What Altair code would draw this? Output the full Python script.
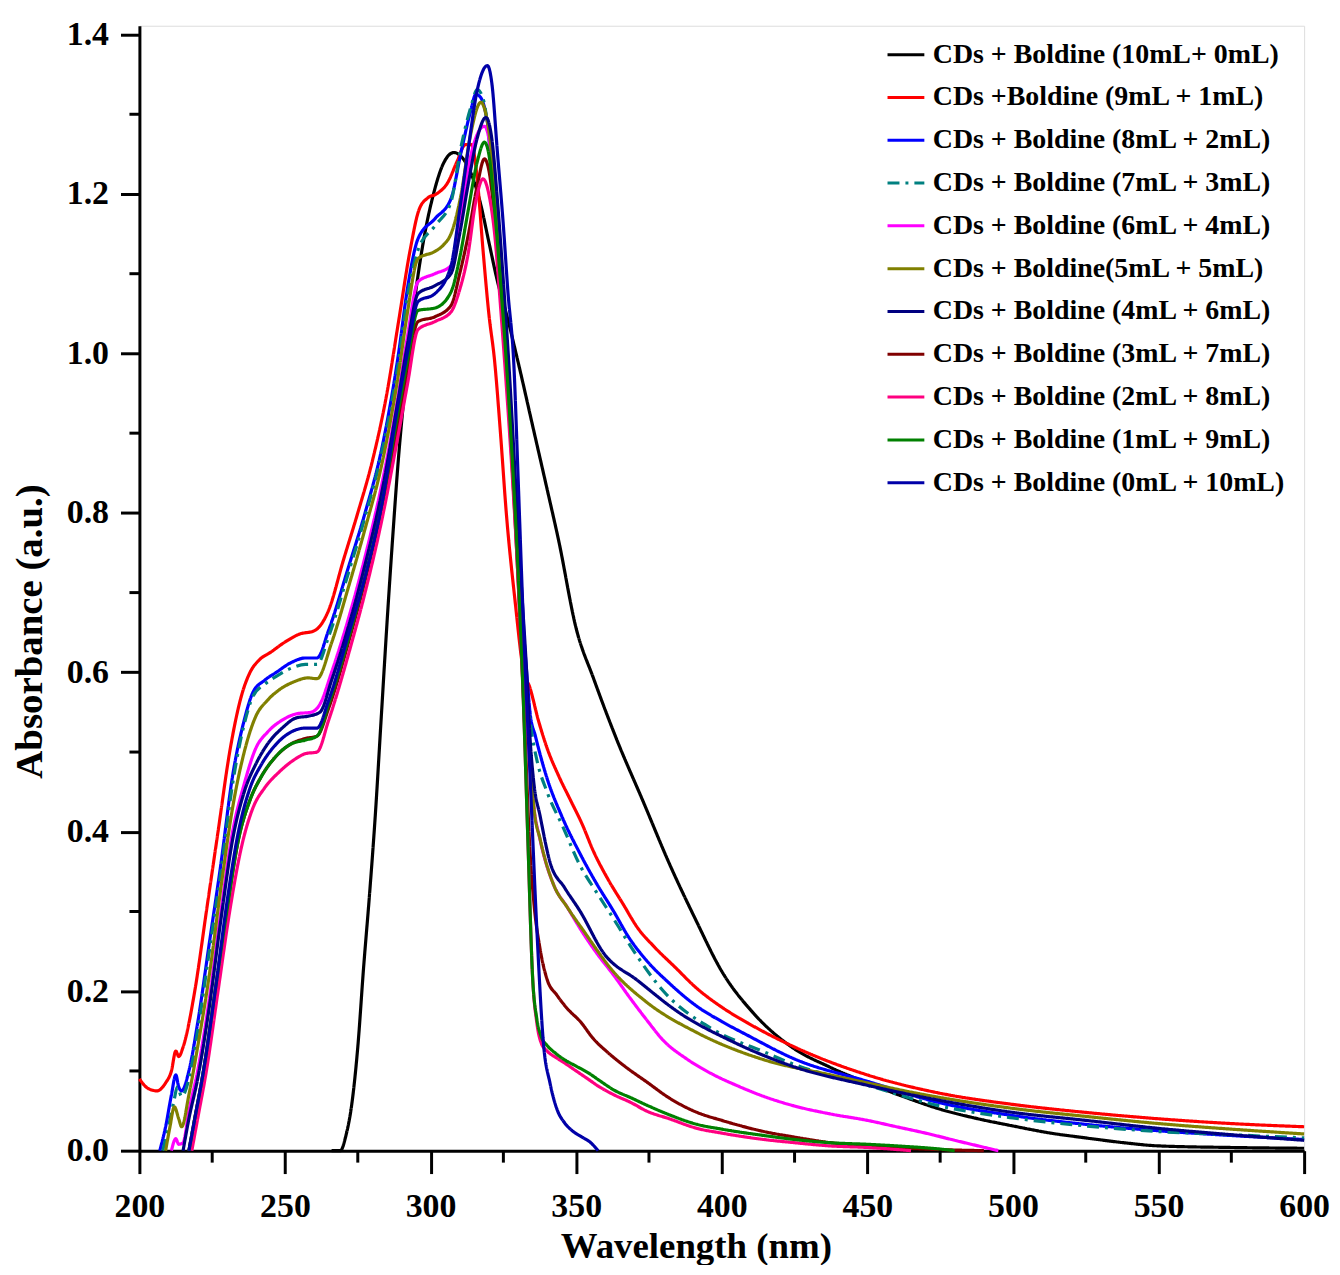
import altair as alt
import pandas as pd

names = [
    "CDs + Boldine (10mL+ 0mL)",
    "CDs +Boldine (9mL + 1mL)",
    "CDs + Boldine (8mL + 2mL)",
    "CDs + Boldine (7mL + 3mL)",
    "CDs + Boldine (6mL + 4mL)",
    "CDs + Boldine(5mL + 5mL)",
    "CDs + Boldine (4mL + 6mL)",
    "CDs + Boldine (3mL + 7mL)",
    "CDs + Boldine (2mL + 8mL)",
    "CDs + Boldine (1mL + 9mL)",
    "CDs + Boldine (0mL + 10mL)",
]
colors = ["#000000", "#FF0000", "#0000FF", "#008080", "#FF00FF", "#808000",
          "#000080", "#800000", "#FF0080", "#008000", "#0000A8"]
dashes = [[1, 0], [1, 0], [1, 0], [12, 6, 3, 6], [1, 0], [1, 0],
          [1, 0], [1, 0], [1, 0], [1, 0], [1, 0]]

wl_10_0 = [266, 269, 271, 273, 275, 277, 279, 281, 283, 285, 287, 289, 291, 293, 295, 298, 301, 304, 308, 311,
           314, 317, 320, 323, 326, 330, 335, 340, 344, 350, 356, 364, 373, 382, 391, 400, 411, 424, 437, 450,
           463, 475, 488, 500, 513, 525, 538, 550, 575, 600]
ab_10_0 = [0, 0.0, 0.02, 0.06, 0.13, 0.23, 0.32, 0.42, 0.54, 0.66, 0.77, 0.87, 0.95, 1.02, 1.08, 1.15, 1.2, 1.235, 1.252, 1.245,
           1.225, 1.19, 1.14, 1.09, 1.05, 0.99, 0.91, 0.83, 0.765, 0.655, 0.592, 0.515, 0.438, 0.36, 0.29, 0.225, 0.172, 0.13, 0.105, 0.085,
           0.067, 0.052, 0.04, 0.031, 0.022, 0.016, 0.01, 0.006, 0.004, 0.003]

wl_9_1 = [200, 203, 206, 209, 211, 212.5, 213.5, 215, 219, 223, 227, 231, 235, 238, 241, 245, 250, 255, 260, 265,
          270, 275, 280, 285, 289, 293, 296, 299, 302, 306, 309, 312, 314, 316, 318, 320, 322, 324, 326, 329, 332,
          334, 337, 340, 344, 348, 352, 356, 361, 366, 371, 377, 384, 391, 400, 409, 425, 450, 475, 500, 525,
          550, 575, 600]
ab_9_1 = [0.09, 0.078, 0.075, 0.085, 0.1, 0.125, 0.118, 0.13, 0.2, 0.3, 0.4, 0.5, 0.57, 0.6, 0.615, 0.625, 0.638, 0.648, 0.652, 0.678,
          0.74, 0.8, 0.865, 0.95, 1.04, 1.13, 1.18, 1.195, 1.2, 1.215, 1.24, 1.262, 1.262, 1.22, 1.13, 1.05, 0.99, 0.9, 0.8, 0.69, 0.6,
          0.582, 0.54, 0.505, 0.47, 0.44, 0.41, 0.375, 0.34, 0.31, 0.28, 0.255, 0.23, 0.205, 0.18, 0.16, 0.13, 0.095, 0.072, 0.058, 0.048,
          0.04, 0.034, 0.03]

wl_8_2 = [207, 209, 211, 212.5, 213.5, 214.5, 217, 220, 224, 228, 232, 236, 239, 243, 247, 252, 257, 261, 265, 271.8,
          277.5, 283.2, 289, 292, 295.7, 301.5, 307, 310.5, 313.9, 315.5, 317, 319, 320.5, 322, 324, 326.5, 329, 331, 333, 334.2,
          336, 340, 345, 351.4, 357, 362.9, 368, 374.3, 382, 391.5, 400, 408.7, 425, 450, 475, 500, 525, 550, 575, 600]
ab_8_2 = [0, 0.03, 0.07, 0.095, 0.08, 0.075, 0.1, 0.16, 0.26, 0.36, 0.47, 0.54, 0.575, 0.59, 0.6, 0.612, 0.618, 0.618, 0.653, 0.732,
          0.8, 0.88, 1.0, 1.08, 1.144, 1.169, 1.194, 1.253, 1.306, 1.325, 1.322, 1.3, 1.26, 1.169, 1.086, 0.978, 0.83, 0.7, 0.6, 0.548,
          0.52, 0.467, 0.42, 0.372, 0.335, 0.3, 0.268, 0.238, 0.21, 0.181, 0.162, 0.145, 0.115, 0.087, 0.06, 0.044, 0.033, 0.025, 0.019, 0.014]

wl_7_3 = [208, 210, 212, 213, 214.5, 217, 220, 224, 228, 232, 236, 239, 243, 247, 252, 257, 261, 265, 271.8, 277.5,
          283.2, 289, 292, 295.7, 301.5, 307, 310.5, 313.9, 316, 318, 320, 322, 324, 326.5, 329, 331, 333, 334.5, 336.5, 340,
          345.6, 351, 357, 363, 368.6, 380, 397, 414.5, 425, 450, 475, 500, 525, 550, 575, 600]
ab_7_3 = [0, 0.03, 0.065, 0.08, 0.068, 0.09, 0.15, 0.25, 0.35, 0.46, 0.535, 0.57, 0.585, 0.595, 0.605, 0.61, 0.61, 0.645, 0.725, 0.795,
          0.875, 0.99, 1.07, 1.13, 1.16, 1.19, 1.26, 1.31, 1.331, 1.32, 1.27, 1.17, 1.08, 0.97, 0.82, 0.7, 0.58, 0.53, 0.49, 0.45,
          0.405, 0.36, 0.324, 0.29, 0.257, 0.2, 0.152, 0.124, 0.108, 0.082, 0.056, 0.041, 0.031, 0.024, 0.02, 0.016]

wl_6_4 = [211, 212.5, 213.5, 215, 217, 220, 224, 228, 232, 236, 240, 244, 249, 254, 259, 262, 266, 272, 277.5, 283.2,
          289, 292, 295.7, 301.5, 307, 310, 312.8, 315.5, 318.5, 320, 322, 324, 326, 328, 330, 332, 334, 335.5, 337.6, 342.2,
          347, 352.5, 357, 362.9, 368.6, 374, 380, 388, 397.3, 405, 414.5, 425, 437.4, 450, 460, 470, 480, 488, 495]
ab_6_4 = [0, 0.015, 0.008, 0.01, 0.05, 0.1, 0.19, 0.3, 0.4, 0.46, 0.505, 0.525, 0.54, 0.548, 0.55, 0.56, 0.6, 0.67, 0.745, 0.835,
          0.95, 1.02, 1.09, 1.1, 1.11, 1.16, 1.23, 1.27, 1.285, 1.27, 1.2, 1.1, 1.0, 0.87, 0.75, 0.63, 0.49, 0.43, 0.39, 0.334,
          0.305, 0.272, 0.248, 0.22, 0.191, 0.165, 0.138, 0.115, 0.095, 0.082, 0.068, 0.056, 0.046, 0.038, 0.03, 0.022, 0.013, 0.006, 0]

wl_5_5 = [209, 210.5, 212, 213.5, 214.5, 217, 220, 224, 228, 232, 236, 240, 244, 248, 253, 258, 261, 266, 271.8, 277.5,
          283.2, 289, 292, 295.7, 301.5, 304.4, 307, 310.5, 313.5, 317.3, 319, 321, 323, 325, 327, 329, 331, 333, 334.2, 335.5,
          337.6, 342.2, 347, 352.5, 362.9, 374.3, 391.5, 414.5, 437.4, 450, 467, 500, 525, 550, 575, 600]
ab_5_5 = [0, 0.03, 0.055, 0.04, 0.03, 0.07, 0.13, 0.22, 0.33, 0.43, 0.5, 0.545, 0.565, 0.578, 0.588, 0.593, 0.592, 0.637, 0.707, 0.78,
          0.86, 0.975, 1.05, 1.119, 1.128, 1.136, 1.15, 1.2, 1.27, 1.315, 1.3, 1.25, 1.16, 1.06, 0.96, 0.83, 0.7, 0.58, 0.5, 0.43,
          0.391, 0.334, 0.305, 0.276, 0.224, 0.186, 0.148, 0.114, 0.095, 0.085, 0.072, 0.053, 0.043, 0.034, 0.027, 0.021]

wl_4_6 = [215, 217, 220, 224, 228, 232, 236, 240, 244, 249, 254, 258, 262, 266, 272, 277.5, 283.2, 289, 292, 295.7,
          301.5, 307, 310, 312.8, 316, 319, 321, 323, 325, 327, 329, 331, 333, 334.2, 335.5, 337.6, 341, 346, 351.4, 359.4,
          370.9, 385.8, 403, 425, 450, 475, 500, 525, 550, 575, 600]
ab_4_6 = [0, 0.04, 0.09, 0.18, 0.29, 0.39, 0.45, 0.485, 0.51, 0.53, 0.543, 0.545, 0.55, 0.59, 0.66, 0.735, 0.825, 0.945, 1.01, 1.075,
          1.085, 1.1, 1.15, 1.21, 1.27, 1.296, 1.27, 1.19, 1.09, 0.98, 0.85, 0.72, 0.6, 0.515, 0.46, 0.42, 0.362, 0.33, 0.3, 0.248,
          0.214, 0.172, 0.138, 0.105, 0.082, 0.063, 0.048, 0.038, 0.028, 0.02, 0.013]

wl_3_7 = [217, 219, 222, 226, 230, 234, 238, 242, 247, 252, 257, 261, 265, 272, 277.5, 283.2, 289, 292, 295.7, 301.5,
          307, 310, 312.8, 316, 318.5, 320, 322, 324, 326, 328, 330, 332, 334.2, 335.5, 337.6, 340, 343.4, 347, 351.4, 356,
          360.6, 367, 374.3, 382, 391.5, 400, 414.5, 425, 437.4, 450, 470, 490]
ab_3_7 = [0, 0.04, 0.1, 0.2, 0.3, 0.39, 0.44, 0.47, 0.495, 0.51, 0.517, 0.52, 0.555, 0.64, 0.715, 0.805, 0.915, 0.98, 1.04, 1.046,
          1.06, 1.1, 1.146, 1.21, 1.244, 1.23, 1.17, 1.08, 0.98, 0.86, 0.72, 0.56, 0.372, 0.31, 0.253, 0.215, 0.195, 0.178, 0.162, 0.14,
          0.124, 0.105, 0.086, 0.066, 0.048, 0.038, 0.024, 0.017, 0.01, 0.006, 0.002, 0]

wl_2_8 = [218, 220, 223, 227, 231, 235, 239, 243, 248, 253, 257, 261, 265, 272.9, 277.5, 283.2, 289, 292, 295.7, 301.5,
          307, 310, 312.8, 315.5, 318, 320, 322, 324, 326, 328, 330, 332, 333.5, 335, 336.5, 338, 340, 343, 346, 350,
          354, 358, 363, 369, 374, 382, 391.5, 400, 414.5, 425, 437, 450, 465]
ab_2_8 = [0, 0.04, 0.1, 0.2, 0.3, 0.38, 0.43, 0.455, 0.475, 0.49, 0.498, 0.5, 0.54, 0.637, 0.7, 0.79, 0.9, 0.96, 1.03, 1.04,
          1.052, 1.08, 1.123, 1.19, 1.219, 1.2, 1.15, 1.06, 0.96, 0.85, 0.72, 0.55, 0.38, 0.22, 0.16, 0.135, 0.125, 0.117, 0.11, 0.1,
          0.09, 0.08, 0.07, 0.06, 0.05, 0.04, 0.028, 0.022, 0.014, 0.01, 0.006, 0.004, 0]

wl_1_9 = [217, 219, 222, 226, 230, 234, 238, 242, 247, 252, 257, 261, 265, 272, 277.5, 283.2, 289, 292, 295.7, 301.5,
          307, 310, 312.8, 316, 318.5, 320, 322, 324, 326, 328, 330, 332, 333.5, 335, 336.5, 338, 340, 343, 346, 350,
          354, 358, 363, 369, 374.3, 382, 391.5, 400, 414.5, 425, 437, 450, 460, 475, 480]
ab_1_9 = [0, 0.04, 0.1, 0.2, 0.3, 0.39, 0.44, 0.47, 0.495, 0.51, 0.515, 0.52, 0.56, 0.645, 0.72, 0.81, 0.93, 0.99, 1.054, 1.057,
          1.077, 1.12, 1.177, 1.24, 1.265, 1.25, 1.18, 1.09, 0.99, 0.87, 0.73, 0.55, 0.38, 0.22, 0.165, 0.143, 0.132, 0.122, 0.114, 0.106,
          0.098, 0.088, 0.076, 0.066, 0.057, 0.045, 0.033, 0.027, 0.019, 0.014, 0.01, 0.008, 0.006, 0.002, 0]

wl_0_10 = [217, 219, 222, 226, 230, 234, 238, 242, 247, 252, 257, 261, 265, 272, 277.5, 283.2, 289, 292, 295.7, 301.5,
           307, 310, 312.8, 316, 319.5, 321, 323, 325, 326.5, 328.7, 330, 332, 334.2, 336.5, 338.8, 341, 343.4, 346, 349, 352,
           355, 357.5]
ab_0_10 = [0, 0.04, 0.1, 0.2, 0.31, 0.4, 0.455, 0.485, 0.51, 0.525, 0.53, 0.53, 0.565, 0.65, 0.72, 0.81, 0.94, 1.0, 1.065, 1.075,
           1.11, 1.18, 1.253, 1.33, 1.361, 1.34, 1.25, 1.16, 1.08, 0.978, 0.85, 0.65, 0.467, 0.277, 0.133, 0.085, 0.052, 0.035, 0.024, 0.017,
           0.01, 0]

series_wl = [wl_10_0, wl_9_1, wl_8_2, wl_7_3, wl_6_4, wl_5_5, wl_4_6, wl_3_7, wl_2_8, wl_1_9, wl_0_10]
series_ab = [ab_10_0, ab_9_1, ab_8_2, ab_7_3, ab_6_4, ab_5_5, ab_4_6, ab_3_7, ab_2_8, ab_1_9, ab_0_10]

x_major = [200, 250, 300, 350, 400, 450, 500, 550, 600]
x_minor = [225, 275, 325, 375, 425, 475, 525, 575]
y_major = [0.0, 0.2, 0.4, 0.6, 0.8, 1.0, 1.2, 1.4]
y_minor = [0.1, 0.3, 0.5, 0.7, 0.9, 1.1, 1.3]

rows = []
for i, (n, ws, vs) in enumerate(zip(names, series_wl, series_ab)):
    for j, (w, v) in enumerate(zip(ws, vs)):
        rows.append({"series": n, "wl": w, "ab": v, "j": j})
df = pd.DataFrame(rows)

FONT = "Liberation Serif"
W, H = 1170, 1130

xscale = alt.Scale(domain=[200, 600], nice=False, zero=False)
yscale = alt.Scale(domain=[0, 1.411], nice=False, zero=False)

xaxis = alt.Axis(
    values=x_major, format="d", title="Wavelength (nm)",
    tickSize=23, tickWidth=3, tickColor="black",
    domainWidth=3, domainColor="black", grid=False,
    labelFont=FONT, labelFontWeight="bold", labelFontSize=34, labelColor="black",
    labelPadding=16, labelFlush=False,
    titleFont=FONT, titleFontWeight="bold", titleFontSize=37, titleColor="black",
    titleX=559, titleY=96, titleBaseline="middle")
yaxis = alt.Axis(
    values=y_major, format=".1f", title="Absorbance (a.u.)",
    tickSize=19, tickWidth=3, tickColor="black",
    domainWidth=3, domainColor="black", grid=False,
    labelFont=FONT, labelFontWeight="bold", labelFontSize=34, labelColor="black",
    labelPadding=12, labelFlush=False,
    titleFont=FONT, titleFontWeight="bold", titleFontSize=39, titleColor="black",
    titleX=-110, titleY=608, titleBaseline="middle")

legend = alt.Legend(orient="none", legendX=750, legendY=9, title=None,
                    labelFont=FONT, labelFontWeight="bold", labelFontSize=28,
                    labelColor="black", symbolType="stroke", symbolSize=1369,
                    symbolStrokeWidth=3, rowPadding=9, labelOffset=7,
                    padding=0, labelLimit=0)

lines = alt.Chart(df).mark_line(strokeWidth=3.2, interpolate="monotone").encode(
    x=alt.X("wl:Q", scale=xscale, axis=xaxis),
    y=alt.Y("ab:Q", scale=yscale, axis=yaxis),
    color=alt.Color("series:N", sort=names,
                    scale=alt.Scale(domain=names, range=colors), legend=legend),
    strokeDash=alt.StrokeDash("series:N", sort=names,
                              scale=alt.Scale(domain=names, range=dashes), legend=legend),
    detail="series:N",
    order="j:Q",
)

minor_x = alt.Chart(pd.DataFrame({"wl": x_minor})).mark_rule(color="black", strokeWidth=3).encode(
    x=alt.X("wl:Q", scale=xscale, axis=xaxis),
    y=alt.value(H), y2=alt.value(H + 12),
)
minor_y = alt.Chart(pd.DataFrame({"ab": y_minor})).mark_rule(color="black", strokeWidth=3).encode(
    y=alt.Y("ab:Q", scale=yscale, axis=yaxis),
    x=alt.value(-10), x2=alt.value(0),
)

chart = alt.layer(lines, minor_x, minor_y).properties(
    width=W, height=H,
    autosize=alt.AutoSizeParams(type="none"),
    padding={"left": 132, "top": 15, "right": 28, "bottom": 112},
).configure_view(stroke="#999999", strokeWidth=1).configure(background="white")

chart.save("out.html", embed_options={"renderer": "svg", "actions": False})
